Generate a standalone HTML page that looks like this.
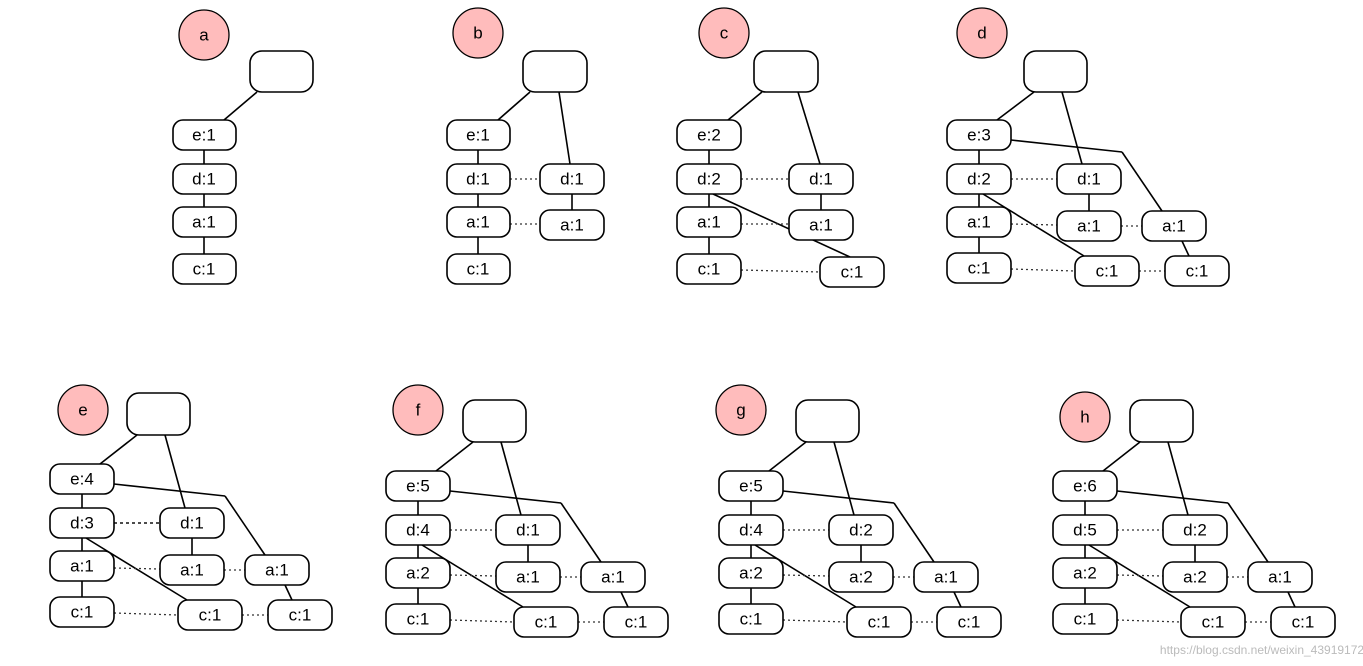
<!DOCTYPE html>
<html><head><meta charset="utf-8"><style>
html,body{margin:0;padding:0;background:#fff;}
svg{display:block}
text{font-family:"Liberation Sans",sans-serif;font-size:17px;text-anchor:middle;dominant-baseline:central;fill:#000}
.n{fill:#fff;stroke:#000;stroke-width:1.6}
.c{fill:#ffbcbc;stroke:#000;stroke-width:1.3}
.l{stroke:#000;stroke-width:1.6;fill:none}
.d{stroke:#333;stroke-width:1.3;stroke-dasharray:2,3;fill:none}
</style></head><body>
<svg width="1363" height="666" viewBox="0 0 1363 666" xmlns="http://www.w3.org/2000/svg">
<!-- Panel a -->
<circle class="c" cx="204" cy="35" r="25"/><text x="204" y="35">a</text>
<rect class="n" x="250" y="51" width="63" height="41" rx="12"/>
<line class="l" x1="257" y1="92" x2="224" y2="120"/>
<line class="l" x1="204" y1="150" x2="204" y2="164"/>
<line class="l" x1="204" y1="194" x2="204" y2="207"/>
<line class="l" x1="204" y1="237" x2="204" y2="254"/>
<rect class="n" x="173" y="120" width="63" height="30" rx="10"/><text x="204" y="135">e:1</text>
<rect class="n" x="173" y="164" width="63" height="30" rx="10"/><text x="204" y="179">d:1</text>
<rect class="n" x="173" y="207" width="63" height="30" rx="10"/><text x="204" y="222">a:1</text>
<rect class="n" x="173" y="254" width="63" height="30" rx="10"/><text x="204" y="269">c:1</text>

<!-- Panel b -->
<circle class="c" cx="478" cy="33" r="25"/><text x="478" y="33">b</text>
<rect class="n" x="523" y="51" width="64" height="41" rx="12"/>
<line class="l" x1="530" y1="92" x2="498" y2="120"/>
<line class="l" x1="559" y1="92" x2="570" y2="164"/>
<line class="l" x1="478" y1="150" x2="478" y2="164"/>
<line class="l" x1="478" y1="194" x2="478" y2="207"/>
<line class="l" x1="478" y1="237" x2="478" y2="254"/>
<line class="l" x1="572" y1="194" x2="572" y2="210"/>
<line class="d" x1="510" y1="179" x2="540" y2="179"/>
<line class="d" x1="510" y1="224" x2="540" y2="224"/>
<rect class="n" x="447" y="120" width="63" height="30" rx="10"/><text x="478" y="135">e:1</text>
<rect class="n" x="447" y="164" width="63" height="30" rx="10"/><text x="478" y="179">d:1</text>
<rect class="n" x="447" y="207" width="63" height="30" rx="10"/><text x="478" y="222">a:1</text>
<rect class="n" x="447" y="254" width="63" height="30" rx="10"/><text x="478" y="269">c:1</text>
<rect class="n" x="540" y="164" width="64" height="30" rx="10"/><text x="572" y="179">d:1</text>
<rect class="n" x="540" y="210" width="64" height="30" rx="10"/><text x="572" y="225">a:1</text>

<!-- Panel c -->
<circle class="c" cx="724" cy="33" r="25"/><text x="724" y="33">c</text>
<rect class="n" x="754" y="51" width="64" height="41" rx="12"/>
<line class="l" x1="762" y1="92" x2="728" y2="120"/>
<line class="l" x1="798" y1="92" x2="820" y2="164"/>
<line class="l" x1="709" y1="150" x2="709" y2="164"/>
<line class="l" x1="709" y1="194" x2="709" y2="207"/>
<line class="l" x1="709" y1="237" x2="709" y2="254"/>
<line class="l" x1="821" y1="194" x2="821" y2="210"/>
<line class="l" x1="713" y1="194" x2="850" y2="257"/>
<line class="d" x1="741" y1="179" x2="789" y2="179"/>
<line class="d" x1="741" y1="224" x2="789" y2="224"/>
<line class="d" x1="741" y1="270" x2="820" y2="272"/>
<rect class="n" x="677" y="120" width="64" height="30" rx="10"/><text x="709" y="135">e:2</text>
<rect class="n" x="677" y="164" width="64" height="30" rx="10"/><text x="709" y="179">d:2</text>
<rect class="n" x="677" y="207" width="64" height="30" rx="10"/><text x="709" y="222">a:1</text>
<rect class="n" x="677" y="254" width="64" height="30" rx="10"/><text x="709" y="269">c:1</text>
<rect class="n" x="789" y="164" width="64" height="30" rx="10"/><text x="821" y="179">d:1</text>
<rect class="n" x="789" y="210" width="64" height="30" rx="10"/><text x="821" y="225">a:1</text>
<rect class="n" x="820" y="257" width="64" height="30" rx="10"/><text x="852" y="272">c:1</text>

<!-- Circles for second row & d -->
<circle class="c" cx="982" cy="33" r="25"/><text x="982" y="33">d</text>
<circle class="c" cx="83" cy="410" r="25"/><text x="83" y="410">e</text>
<circle class="c" cx="418" cy="410" r="25"/><text x="418" y="410">f</text>
<circle class="c" cx="741" cy="410" r="25"/><text x="741" y="410">g</text>
<circle class="c" cx="1085" cy="417" r="25"/><text x="1085" y="417">h</text>

<!-- Panel d (template shifted) -->
<g transform="translate(897,-344)">
<rect class="n" x="127" y="395" width="63" height="41" rx="12"/>
<line class="l" x1="137" y1="436" x2="100" y2="464"/>
<line class="l" x1="165" y1="436" x2="185" y2="508"/>
<line class="l" x1="114" y1="484" x2="225" y2="496"/><line class="l" x1="225" y1="496" x2="265" y2="555"/>
<line class="l" x1="86" y1="538" x2="187" y2="600"/>
<line class="l" x1="82" y1="494" x2="82" y2="508"/><line class="l" x1="82" y1="538" x2="82" y2="551"/><line class="l" x1="82" y1="581" x2="82" y2="597"/>
<line class="l" x1="192" y1="538" x2="192" y2="555"/><line class="l" x1="285" y1="585" x2="292" y2="600"/>
<line class="d" x1="114" y1="523" x2="160" y2="523"/><line class="d" x1="114" y1="568" x2="160" y2="569"/><line class="d" x1="224" y1="570" x2="245" y2="570"/>
<line class="d" x1="114" y1="613" x2="178" y2="615"/><line class="d" x1="242" y1="615" x2="268" y2="615"/>
<rect class="n" x="50" y="464" width="64" height="30" rx="10"/><text x="82" y="479">e:3</text>
<rect class="n" x="50" y="508" width="64" height="30" rx="10"/><text x="82" y="523">d:2</text>
<rect class="n" x="50" y="551" width="64" height="30" rx="10"/><text x="82" y="566">a:1</text>
<rect class="n" x="50" y="597" width="64" height="30" rx="10"/><text x="82" y="612">c:1</text>
<rect class="n" x="160" y="508" width="64" height="30" rx="10"/><text x="192" y="523">d:1</text>
<rect class="n" x="160" y="555" width="64" height="30" rx="10"/><text x="192" y="570">a:1</text>
<rect class="n" x="178" y="600" width="64" height="30" rx="10"/><text x="210" y="615">c:1</text>
<rect class="n" x="245" y="555" width="64" height="30" rx="10"/><text x="277" y="570">a:1</text>
<rect class="n" x="268" y="600" width="64" height="30" rx="10"/><text x="300" y="615">c:1</text>
</g>

<!-- Panel e -->
<g>
<rect class="n" x="127" y="393" width="63" height="42" rx="12"/>
<line class="l" x1="137" y1="435" x2="100" y2="464"/>
<line class="l" x1="165" y1="435" x2="185" y2="508"/>
<line class="l" x1="114" y1="484" x2="225" y2="496"/><line class="l" x1="225" y1="496" x2="265" y2="555"/>
<line class="l" x1="86" y1="538" x2="187" y2="600"/>
<line class="l" x1="82" y1="494" x2="82" y2="508"/><line class="l" x1="82" y1="538" x2="82" y2="551"/><line class="l" x1="82" y1="581" x2="82" y2="597"/>
<line class="l" x1="192" y1="538" x2="192" y2="555"/><line class="l" x1="285" y1="585" x2="292" y2="600"/>
<line class="d" x1="114" y1="523" x2="160" y2="523" style="stroke-dasharray:3,3;stroke-width:1.8"/><line class="d" x1="114" y1="568" x2="160" y2="569"/><line class="d" x1="224" y1="570" x2="245" y2="570"/>
<line class="d" x1="114" y1="613" x2="178" y2="615"/><line class="d" x1="242" y1="615" x2="268" y2="615"/>
<rect class="n" x="50" y="464" width="64" height="30" rx="10"/><text x="82" y="479">e:4</text>
<rect class="n" x="50" y="508" width="64" height="30" rx="10"/><text x="82" y="523">d:3</text>
<rect class="n" x="50" y="551" width="64" height="30" rx="10"/><text x="82" y="566">a:1</text>
<rect class="n" x="50" y="597" width="64" height="30" rx="10"/><text x="82" y="612">c:1</text>
<rect class="n" x="160" y="508" width="64" height="30" rx="10"/><text x="192" y="523">d:1</text>
<rect class="n" x="160" y="555" width="64" height="30" rx="10"/><text x="192" y="570">a:1</text>
<rect class="n" x="178" y="600" width="64" height="30" rx="10"/><text x="210" y="615">c:1</text>
<rect class="n" x="245" y="555" width="64" height="30" rx="10"/><text x="277" y="570">a:1</text>
<rect class="n" x="268" y="600" width="64" height="30" rx="10"/><text x="300" y="615">c:1</text>
</g>

<!-- Panel f -->
<g transform="translate(336,7)">
<rect class="n" x="127" y="393" width="63" height="42" rx="12"/>
<line class="l" x1="137" y1="435" x2="100" y2="464"/>
<line class="l" x1="165" y1="435" x2="185" y2="508"/>
<line class="l" x1="114" y1="484" x2="225" y2="496"/><line class="l" x1="225" y1="496" x2="265" y2="555"/>
<line class="l" x1="86" y1="538" x2="187" y2="600"/>
<line class="l" x1="82" y1="494" x2="82" y2="508"/><line class="l" x1="82" y1="538" x2="82" y2="551"/><line class="l" x1="82" y1="581" x2="82" y2="597"/>
<line class="l" x1="192" y1="538" x2="192" y2="555"/><line class="l" x1="285" y1="585" x2="292" y2="600"/>
<line class="d" x1="114" y1="523" x2="160" y2="523"/><line class="d" x1="114" y1="568" x2="160" y2="569"/><line class="d" x1="224" y1="570" x2="245" y2="570"/>
<line class="d" x1="114" y1="613" x2="178" y2="615"/><line class="d" x1="242" y1="615" x2="268" y2="615"/>
<rect class="n" x="50" y="464" width="64" height="30" rx="10"/><text x="82" y="479">e:5</text>
<rect class="n" x="50" y="508" width="64" height="30" rx="10"/><text x="82" y="523">d:4</text>
<rect class="n" x="50" y="551" width="64" height="30" rx="10"/><text x="82" y="566">a:2</text>
<rect class="n" x="50" y="597" width="64" height="30" rx="10"/><text x="82" y="612">c:1</text>
<rect class="n" x="160" y="508" width="64" height="30" rx="10"/><text x="192" y="523">d:1</text>
<rect class="n" x="160" y="555" width="64" height="30" rx="10"/><text x="192" y="570">a:1</text>
<rect class="n" x="178" y="600" width="64" height="30" rx="10"/><text x="210" y="615">c:1</text>
<rect class="n" x="245" y="555" width="64" height="30" rx="10"/><text x="277" y="570">a:1</text>
<rect class="n" x="268" y="600" width="64" height="30" rx="10"/><text x="300" y="615">c:1</text>
</g>

<!-- Panel g -->
<g transform="translate(669,7)">
<rect class="n" x="127" y="393" width="63" height="42" rx="12"/>
<line class="l" x1="137" y1="435" x2="100" y2="464"/>
<line class="l" x1="165" y1="435" x2="185" y2="508"/>
<line class="l" x1="114" y1="484" x2="225" y2="496"/><line class="l" x1="225" y1="496" x2="265" y2="555"/>
<line class="l" x1="86" y1="538" x2="187" y2="600"/>
<line class="l" x1="82" y1="494" x2="82" y2="508"/><line class="l" x1="82" y1="538" x2="82" y2="551"/><line class="l" x1="82" y1="581" x2="82" y2="597"/>
<line class="l" x1="192" y1="538" x2="192" y2="555"/><line class="l" x1="285" y1="585" x2="292" y2="600"/>
<line class="d" x1="114" y1="523" x2="160" y2="523"/><line class="d" x1="114" y1="568" x2="160" y2="569"/><line class="d" x1="224" y1="570" x2="245" y2="570"/>
<line class="d" x1="114" y1="613" x2="178" y2="615"/><line class="d" x1="242" y1="615" x2="268" y2="615"/>
<rect class="n" x="50" y="464" width="64" height="30" rx="10"/><text x="82" y="479">e:5</text>
<rect class="n" x="50" y="508" width="64" height="30" rx="10"/><text x="82" y="523">d:4</text>
<rect class="n" x="50" y="551" width="64" height="30" rx="10"/><text x="82" y="566">a:2</text>
<rect class="n" x="50" y="597" width="64" height="30" rx="10"/><text x="82" y="612">c:1</text>
<rect class="n" x="160" y="508" width="64" height="30" rx="10"/><text x="192" y="523">d:2</text>
<rect class="n" x="160" y="555" width="64" height="30" rx="10"/><text x="192" y="570">a:2</text>
<rect class="n" x="178" y="600" width="64" height="30" rx="10"/><text x="210" y="615">c:1</text>
<rect class="n" x="245" y="555" width="64" height="30" rx="10"/><text x="277" y="570">a:1</text>
<rect class="n" x="268" y="600" width="64" height="30" rx="10"/><text x="300" y="615">c:1</text>
</g>

<!-- Panel h -->
<g transform="translate(1003,7)">
<rect class="n" x="127" y="393" width="63" height="42" rx="12"/>
<line class="l" x1="137" y1="435" x2="100" y2="464"/>
<line class="l" x1="165" y1="435" x2="185" y2="508"/>
<line class="l" x1="114" y1="484" x2="225" y2="496"/><line class="l" x1="225" y1="496" x2="265" y2="555"/>
<line class="l" x1="86" y1="538" x2="187" y2="600"/>
<line class="l" x1="82" y1="494" x2="82" y2="508"/><line class="l" x1="82" y1="538" x2="82" y2="551"/><line class="l" x1="82" y1="581" x2="82" y2="597"/>
<line class="l" x1="192" y1="538" x2="192" y2="555"/><line class="l" x1="285" y1="585" x2="292" y2="600"/>
<line class="d" x1="114" y1="523" x2="160" y2="523"/><line class="d" x1="114" y1="568" x2="160" y2="569"/><line class="d" x1="224" y1="570" x2="245" y2="570"/>
<line class="d" x1="114" y1="613" x2="178" y2="615"/><line class="d" x1="242" y1="615" x2="268" y2="615"/>
<rect class="n" x="50" y="464" width="64" height="30" rx="10"/><text x="82" y="479">e:6</text>
<rect class="n" x="50" y="508" width="64" height="30" rx="10"/><text x="82" y="523">d:5</text>
<rect class="n" x="50" y="551" width="64" height="30" rx="10"/><text x="82" y="566">a:2</text>
<rect class="n" x="50" y="597" width="64" height="30" rx="10"/><text x="82" y="612">c:1</text>
<rect class="n" x="160" y="508" width="64" height="30" rx="10"/><text x="192" y="523">d:2</text>
<rect class="n" x="160" y="555" width="64" height="30" rx="10"/><text x="192" y="570">a:2</text>
<rect class="n" x="178" y="600" width="64" height="30" rx="10"/><text x="210" y="615">c:1</text>
<rect class="n" x="245" y="555" width="64" height="30" rx="10"/><text x="277" y="570">a:1</text>
<rect class="n" x="268" y="600" width="64" height="30" rx="10"/><text x="300" y="615">c:1</text>
</g>
<text x="1262" y="650" style="font-size:12px;fill:#bbb">https://blog.csdn.net/weixin_43919172</text>
</svg>
</body></html>
